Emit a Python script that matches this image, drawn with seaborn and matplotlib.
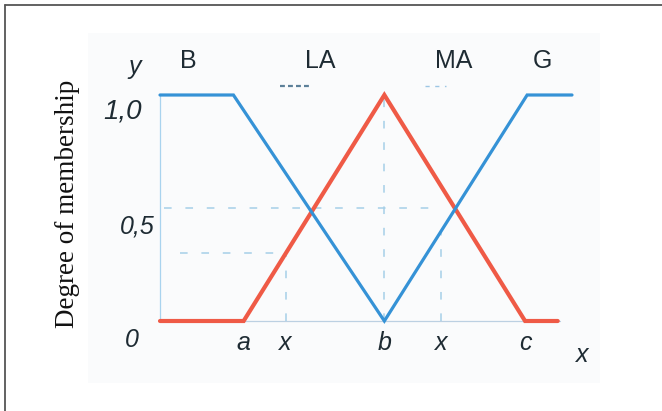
import matplotlib
matplotlib.use("Agg")
import matplotlib.pyplot as plt
from matplotlib.lines import Line2D
from matplotlib.patches import Rectangle
import seaborn as sns

# membership functions (breakpoints)
blue_x = [0, 1.8, 5.5, 9.0, 10.1]
blue_y = [1, 1, 0, 1, 1]
red_x = [0, 2.05, 5.5, 8.95, 9.75]
red_y = [0, 0, 1, 0, 0]

# axis ticks
x_tick_pos = [2.05, 3.08, 5.5, 6.9, 8.95]
x_tick_labels = ["a", "x", "b", "x", "c"]
y_tick_labels = ["0", "0,5", "1,0"]

# set names written above the curves
set_names = ["B", "LA", "MA", "G"]
set_name_x = [0.69, 3.93, 7.19, 9.38]

sns.set_theme(style="white")
plt.rcParams["font.family"] = ["Liberation Sans", "DejaVu Sans"]

fig = plt.figure(figsize=(6.62, 4.11), dpi=100)
W, H = 662, 411

# faint background of the pasted picture
fig.add_artist(Rectangle((88 / W, 1 - 383 / H), (600 - 88) / W, (383 - 33) / H,
                         transform=fig.transFigure, facecolor="#fafbfc", edgecolor="none", zorder=0))

ax = fig.add_axes([160 / W, 1 - 321 / H, (572 - 160) / W, 226 / H])
ax.set_facecolor("none")
ax.set_xlim(0, 10.1)
ax.set_ylim(0, 1)
for s in ax.spines.values():
    s.set_visible(False)

# thin axis lines
ax.plot([0, 0], [0, 1], color="#a9d3ee", lw=0.9, clip_on=False)
ax.plot([0, 9.8], [0, 0], color="#bcd0e2", lw=0.9, clip_on=False)

# dashed helper lines
guide = dict(color="#a6cfe8", lw=1.1, dashes=(5, 9), clip_on=False)
ax.plot([0.1, 6.6], [0.5, 0.5], **guide)
ax.plot([0.5, 3.08], [0.30, 0.30], **guide)
ax.plot([3.08, 3.08], [0, 0.30], **guide)
ax.plot([5.5, 5.5], [0, 1], **guide)
ax.plot([6.9, 6.9], [0, 0.40], **guide)

sns.lineplot(x=red_x, y=red_y, color="#ef5a46", lw=3.0, ax=ax, sort=False)
sns.lineplot(x=blue_x, y=blue_y, color="#3592d6", lw=2.3, ax=ax, sort=False)
for line in ax.lines:
    line.set_clip_on(False)
    line.set_solid_joinstyle("miter")

# ticks
ax.set_xticks(x_tick_pos)
ax.set_xticklabels(x_tick_labels, fontsize=18, style="italic", color="#1e2b33")
ax.set_yticks([])
ax.tick_params(axis="x", length=0, pad=7)

txt = dict(fontsize=18, style="italic", color="#1e2b33", ha="center", va="center")
ax.text(-0.70, -0.084, y_tick_labels[0], **txt)
ax.text(-0.56, 0.416, y_tick_labels[1], **txt)
ax.text(-0.93, 0.929, y_tick_labels[2], **dict(txt, fontsize=20))
ax.text(-0.61, 1.124, "y", **txt)
ax.text(10.34, -0.15, "x", **txt)

for name, nx in zip(set_names, set_name_x):
    ax.text(nx, 1.15, name, fontsize=18, color="#1e2b33", ha="center", va="center")

# small line samples under LA and MA
ax.plot([2.95, 3.72], [1.04, 1.04], color="#5c8099", lw=1.6, dashes=(2.2, 1.4), clip_on=False)
ax.plot([6.5, 7.0], [1.04, 1.04], color="#9cc6e4", lw=1.0, dashes=(3, 4), clip_on=False)

fig.text(68 / W, 1 - 204 / H, "Degree of membership", rotation=90, ha="center", va="center",
         fontsize=19.5, family=["Liberation Serif", "DejaVu Serif"], color="#111111")

# frame lines (top and left only)
fig.add_artist(Line2D([5 / W, 5 / W], [0, 1 - 5 / H], transform=fig.transFigure, color="#555555", lw=1.3))
fig.add_artist(Line2D([5 / W, 1], [1 - 5 / H, 1 - 5 / H], transform=fig.transFigure, color="#555555", lw=1.3))

fig.savefig("out.png", dpi=100)
